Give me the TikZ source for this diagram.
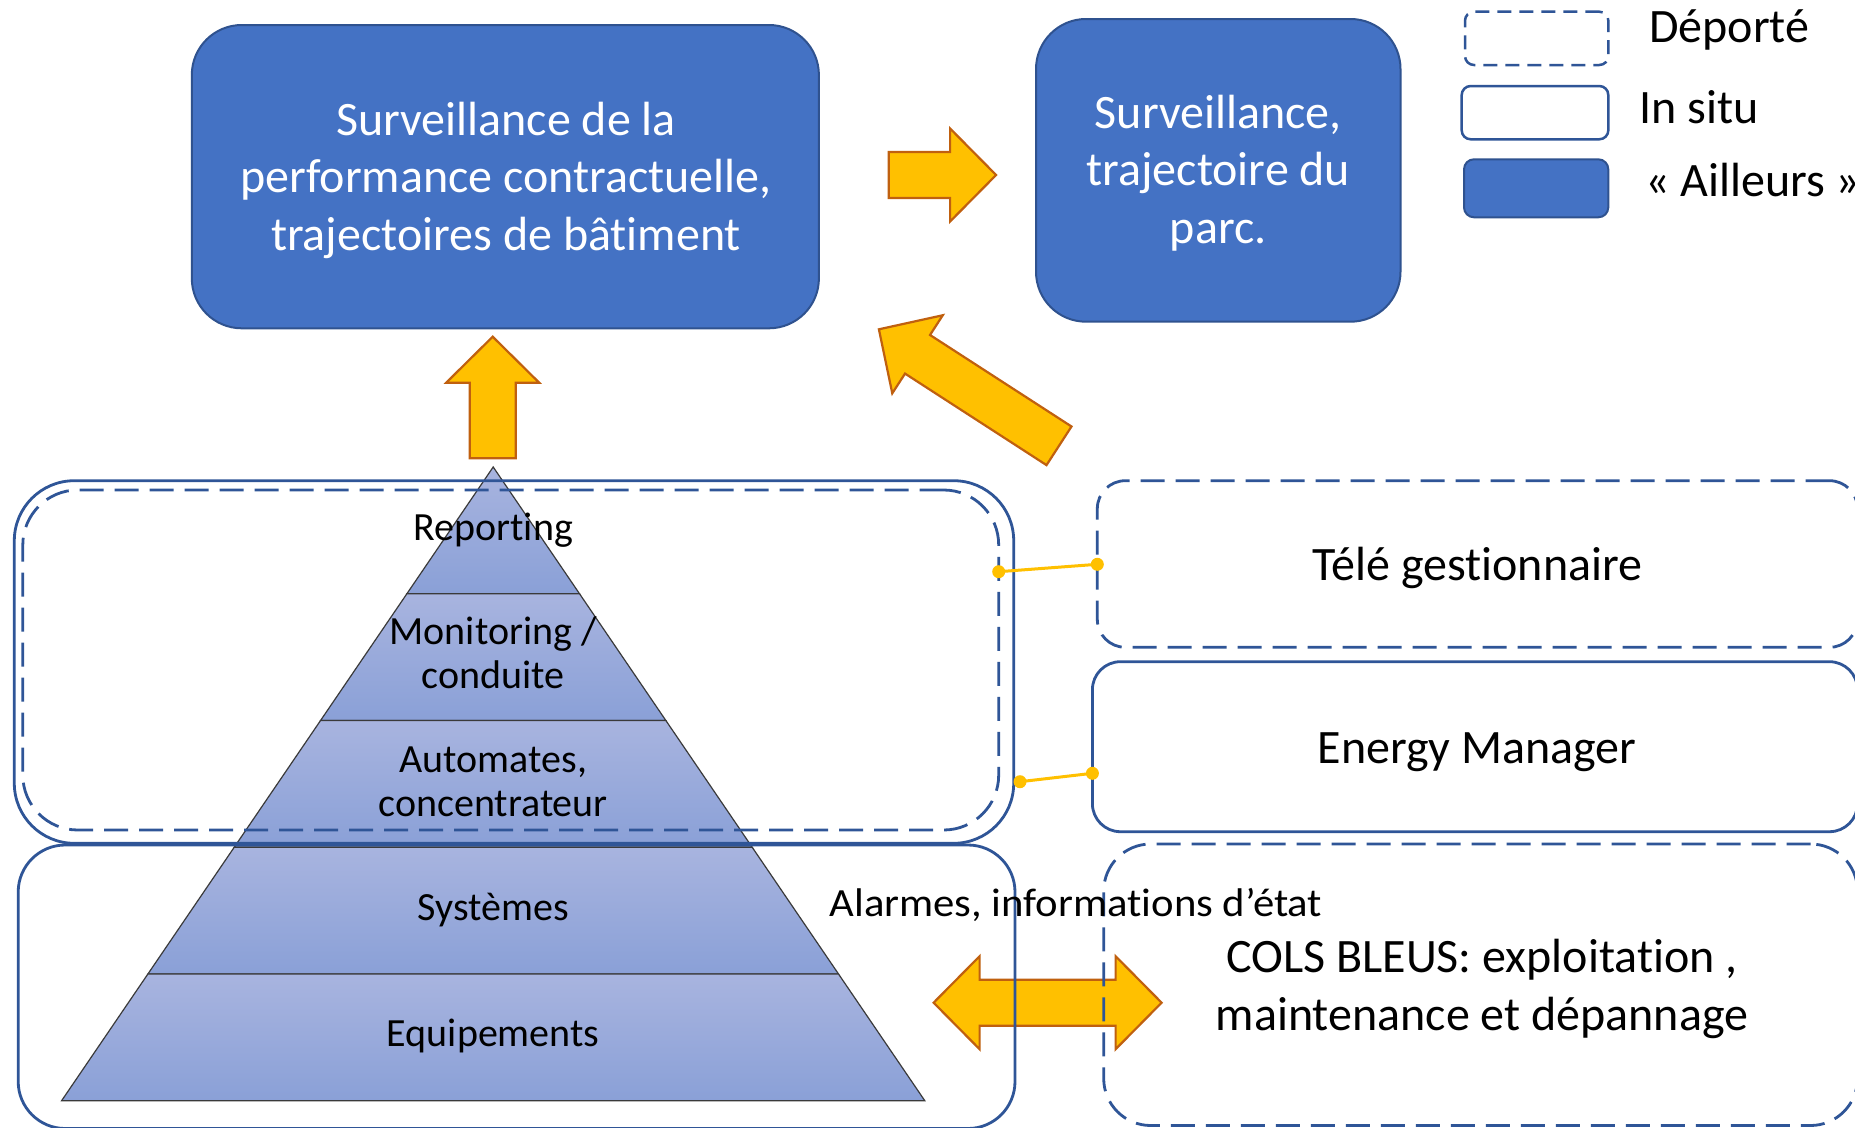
\documentclass[tikz,border=0pt]{standalone}
\usepackage{fontspec}
\setmainfont{Carlito}[RawFeature={-liga;-clig;-calt;-dlig}]
\usetikzlibrary{calc}
\definecolor{boxblue}{HTML}{4472C4}
\definecolor{boxedge}{HTML}{2F528F}
\definecolor{lineblue}{HTML}{2F5597}
\definecolor{arrfill}{HTML}{FFC000}
\definecolor{arredge}{HTML}{C0600F}
\definecolor{pyrtop}{HTML}{A8B4DF}
\definecolor{pyrbot}{HTML}{8AA0D7}
\definecolor{pyredge}{HTML}{3A3A3A}
% single block arrow from tail #1 to tip #2
\newcommand\oneArrow[2]{%
  \path ($(#2)!46pt!(#1)$) coordinate (hb);
  \draw[blockarr] ($(#1)!23pt!90:(#2)$) -- ($(hb)!23pt!90:(#2)$) -- ($(hb)!46.5pt!90:(#2)$) -- (#2)
    -- ($(hb)!46.5pt!-90:(#2)$) -- ($(hb)!23pt!-90:(#2)$) -- ($(#1)!23pt!-90:(#2)$) -- cycle;}
% double block arrow between tips #1 and #2
\newcommand\twoArrow[2]{%
  \path ($(#1)!46pt!(#2)$) coordinate (hbA) ($(#2)!46pt!(#1)$) coordinate (hbB);
  \draw[blockarr] (#1) -- ($(hbA)!46.5pt!90:(#2)$) -- ($(hbA)!23pt!90:(#2)$) -- ($(hbB)!23pt!90:(#2)$)
    -- ($(hbB)!46.5pt!90:(#2)$) -- (#2) -- ($(hbB)!46.5pt!-90:(#2)$) -- ($(hbB)!23pt!-90:(#2)$)
    -- ($(hbA)!23pt!-90:(#2)$) -- ($(hbA)!46.5pt!-90:(#2)$) -- cycle;}
\begin{document}
\begin{tikzpicture}[x=1pt,y=-1pt,
  every node/.style={inner sep=0pt, outer sep=0pt},
  bluebox/.style={draw=boxedge, line width=2pt, fill=boxblue, rounded corners=#1},
  situbox/.style={draw=lineblue, line width=2.8pt, rounded corners=#1},
  depbox/.style={draw=lineblue, line width=2.8pt, rounded corners=#1, dash pattern=on 24pt off 11pt},
  legdep/.style={draw=lineblue, line width=2.5pt, rounded corners=9pt, dash pattern=on 14pt off 8pt},
  blockarr/.style={fill=arrfill, draw=arredge, line width=2.2pt, line join=miter},
  pyrlayer/.style={top color=pyrtop, bottom color=pyrbot, draw=pyredge, line width=1.2pt},
  wtext/.style={text=white, align=center, font=\fontsize{48}{57.5}\selectfont},
  ptext/.style={align=center, font=\fontsize{40}{44}\selectfont},
  btext/.style={align=center, font=\fontsize{48}{57.3}\selectfont},
  yellink/.style={draw=arrfill, line width=3pt},
]
\useasboundingbox (0,0) rectangle (1855,1127);
\fill[white] (0,0) rectangle (1855,1127);

% pyramid layers
\shadedraw[pyrlayer] (493.2,467) -- (579.52,593.74) -- (406.88,593.74) -- cycle;
\shadedraw[pyrlayer] (406.88,593.74) -- (579.52,593.74) -- (665.84,720.48) -- (320.56,720.48) -- cycle;
\shadedraw[pyrlayer] (320.56,720.48) -- (665.84,720.48) -- (752.16,847.22) -- (234.24,847.22) -- cycle;
\shadedraw[pyrlayer] (234.24,847.22) -- (752.16,847.22) -- (838.48,973.96) -- (147.92,973.96) -- cycle;
\shadedraw[pyrlayer] (147.92,973.96) -- (838.48,973.96) -- (924.8,1100.7) -- (61.6,1100.7) -- cycle;

% block arrows
\coordinate (upTail) at (492.7,458.3);
\coordinate (upTip) at (492.7,336.7);
\coordinate (rTail) at (888.8,175);
\coordinate (rTip) at (996.1,175);
\coordinate (dTail) at (1059,445.8);
\coordinate (dTip) at (878.9,329.3);
\coordinate (bTipL) at (933.6,1002.7);
\coordinate (bTipR) at (1161.6,1002.7);
\oneArrow{upTail}{upTip}
\oneArrow{rTail}{rTip}
\oneArrow{dTail}{dTip}
\twoArrow{bTipL}{bTipR}

% blue boxes
\node[bluebox=50pt, minimum width=627.1pt, minimum height=303.3pt] (surv1) at (505.35,176.65) {};
\node[bluebox=50pt, minimum width=364.5pt, minimum height=302.7pt] (surv2) at (1218.25,170.35) {};

% group boxes
\node[situbox=60pt, minimum width=999.4pt, minimum height=362.6pt] (situA) at (514,662) {};
\node[depbox=55pt, minimum width=975.9pt, minimum height=340pt] (depA) at (510.75,660) {};
\node[situbox=47pt, minimum width=996.8pt, minimum height=283.5pt] (situB) at (516.6,986.75) {};
\node[depbox=28pt, minimum width=760.2pt, minimum height=166.6pt] (tele) at (1477.4,564) {};
\node[situbox=28pt, minimum width=765.1pt, minimum height=170pt] (energy) at (1474.95,746.7) {};
\node[depbox=47pt, minimum width=753.8pt, minimum height=281.5pt] (cols) at (1480.6,984.75) {};

% legend
\node[legdep, minimum width=143.3pt, minimum height=53.3pt] (legA) at (1536.65,38.35) {};
\node[situbox=9pt, line width=2.5pt, minimum width=146.6pt, minimum height=53.3pt] (legB) at (1535,112.65) {};
\node[bluebox=10pt, minimum width=144.3pt, minimum height=58pt] (legC) at (1536.15,188.3) {};
\node[btext, anchor=base west] (legAt) at (1649.3,42.7) {Déporté};
\node[btext, anchor=base west] (legBt) at (1639.3,123.3) {In situ};
\node[btext, anchor=base west] (legCt) at (1645,196.7) {« Ailleurs »};

% texts (base anchor = baseline of last line)
\node[wtext, anchor=base] (surv1t) at (506,250) {Surveillance de la\\performance contractuelle,\\trajectoires de bâtiment};
\node[wtext, anchor=base] (surv2t) at (1218.3,243.3) {Surveillance,\\trajectoire du\\parc.};
\node[ptext, anchor=base] (l1) at (493.2,540) {Reporting};
\node[ptext, anchor=base] (l2) at (493.2,688) {Monitoring /\\conduite};
\node[ptext, anchor=base] (l3) at (493.2,816) {Automates,\\concentrateur};
\node[ptext, anchor=base] (l4) at (493.2,920) {Systèmes};
\node[ptext, anchor=base] (l5) at (493.2,1046.7) {Equipements};
\node[ptext, anchor=base west] (alarm) at (829.5,916.7) {\scalebox{1.068}[1]{Alarmes, informations d’état}};
\node[btext, anchor=base] (telet) at (1477.4,580) {Télé gestionnaire};
\node[btext, anchor=base] (energyt) at (1477,763.3) {Energy Manager};
\node[btext, anchor=base] (colst) at (1482,1030) {COLS BLEUS: exploitation ,\\maintenance et dépannage};

% yellow connectors
\coordinate (c1a) at (depA.east |- 0,571.7);
\coordinate (c1b) at (tele.west |- 0,564.3);
\coordinate (c2a) at (1020,781.7);
\coordinate (c2b) at (energy.west |- 0,773.3);
\draw[yellink] (c1a) -- (c1b);
\draw[yellink] (c2a) -- (c2b);
\foreach \p in {c1a,c1b,c2a,c2b} \fill[arrfill] (\p) circle (6.5pt);
\end{tikzpicture}
\end{document}
